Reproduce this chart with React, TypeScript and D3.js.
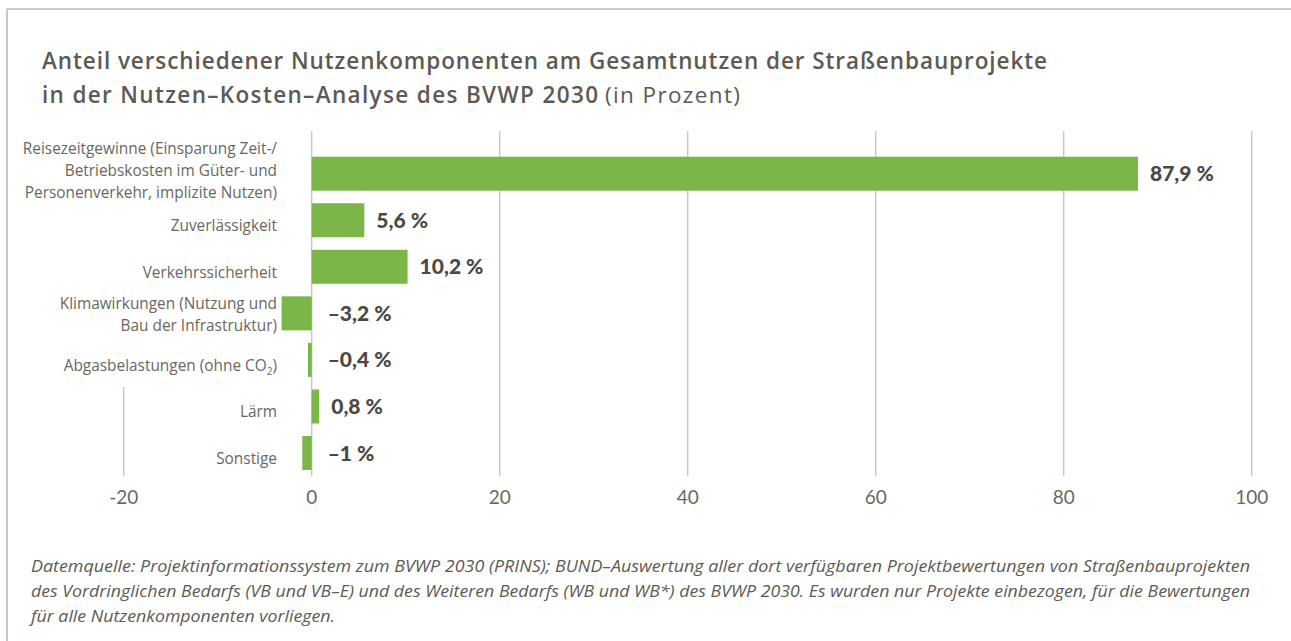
import React from "react";
import * as d3 from "d3";

const categories: string[][] = [
  ["Reisezeitgewinne (Einsparung Zeit-/", "Betriebskosten im Güter- und", "Personenverkehr, implizite Nutzen)"],
  ["Zuverlässigkeit"],
  ["Verkehrssicherheit"],
  ["Klimawirkungen (Nutzung und", "Bau der Infrastruktur)"],
  ["Abgasbelastungen (ohne CO|2|)"],
  ["Lärm"],
  ["Sonstige"],
];
const values: number[] = [87.9, 5.6, 10.2, -3.2, -0.4, 0.8, -1];
const valueLabels: string[] = ["87,9 %", "5,6 %", "10,2 %", "–3,2 %", "–0,4 %", "0,8 %", "–1 %"];
const tickValues: number[] = [-20, 0, 20, 40, 60, 80, 100];

const titleLine1 = "Anteil verschiedener Nutzenkomponenten am Gesamtnutzen der Straßenbauprojekte";
const titleLine2Bold = "in der Nutzen–Kosten–Analyse des BVWP 2030";
const titleLine2Regular = "(in Prozent)";
const footnoteLines: string[] = [
  "Datemquelle: Projektinformationssystem zum BVWP 2030 (PRINS); BUND–Auswertung aller dort verfügbaren Projektbewertungen von Straßenbauprojekten",
  "des Vordringlichen Bedarfs (VB und VB–E) und des Weiteren Bedarfs (WB und WB*) des BVWP 2030. Es wurden nur Projekte einbezogen, für die Bewertungen",
  "für alle Nutzenkomponenten vorliegen.",
];

const W = 1291;
const H = 641;
const GREEN = "#7ab648";
const GRID = "#c4c4c4";
const TEXT_DARK = "#4b4944";
const TEXT_MID = "#5d5a54";
const TEXT_LIGHT = "#6a6761";

export default function App() {
  const x = d3.scaleLinear().domain([0, 100]).range([311.7, 1251.7]);
  const y = d3
    .scaleBand<number>()
    .domain(d3.range(values.length))
    .range([156.7, 470])
    .paddingInner(0.27)
    .paddingOuter(0);
  const gridTop = 131;
  const gridBottom = 476;
  const lineH = 22;

  const renderLabelLine = (s: string) => {
    if (s.includes("|")) {
      const parts = s.split("|");
      return (
        <>
          {parts[0]}
          <tspan fontSize={10} dy={4}>{parts[1]}</tspan>
          <tspan dy={-4}>{parts[2]}</tspan>
        </>
      );
    }
    return s;
  };

  return (
    <svg
      width={W}
      height={H}
      style={{ position: "absolute", left: 0, top: 0, background: "#fff" }}
    >
      {/* frame */}
      <line x1={7} x2={W} y1={9} y2={9} stroke="#c9c9c9" strokeWidth={2} />
      <line x1={7} x2={7} y1={9} y2={H} stroke="#c9c9c9" strokeWidth={2} />

      {/* title */}
      <text
        x={42}
        y={69}
        fontFamily="'Open Sans', sans-serif"
        fontWeight={600}
        fontSize={22.5}
        fill={TEXT_MID}
        textLength={1005}
        lengthAdjust="spacing"
      >
        {titleLine1}
      </text>
      <text
        x={42}
        y={103}
        fontFamily="'Open Sans', sans-serif"
        fontWeight={600}
        fontSize={22.5}
        fill={TEXT_MID}
        textLength={556}
        lengthAdjust="spacing"
      >
        {titleLine2Bold}
      </text>
      <text
        x={605}
        y={103}
        fontFamily="'Open Sans', sans-serif"
        fontWeight={400}
        fontSize={22.5}
        fill={TEXT_MID}
        textLength={135}
        lengthAdjust="spacing"
      >
        {titleLine2Regular}
      </text>

      {/* grid */}
      {tickValues.map((t) => (
        <line
          key={t}
          x1={x(t)}
          x2={x(t)}
          y1={t === -20 ? 387 : gridTop}
          y2={gridBottom}
          stroke={GRID}
          strokeWidth={1.3}
        />
      ))}

      {/* tick labels */}
      {tickValues.map((t) => (
        <text
          key={"t" + t}
          x={x(t)}
          y={504}
          textAnchor="middle"
          fontFamily="'Liberation Sans Narrow', 'Lato', sans-serif"
          fontSize={19}
          fill={TEXT_LIGHT}
        >
          {t}
        </text>
      ))}

      {/* bars */}
      {values.map((v, i) => (
        <rect
          key={"b" + i}
          x={x(Math.min(0, v))}
          y={y(i)!}
          width={Math.abs(x(v) - x(0))}
          height={y.bandwidth()}
          fill={GREEN}
        />
      ))}

      {/* category labels */}
      {categories.map((lines, i) => {
        const cy = y(i)! + y.bandwidth() / 2;
        const n = lines.length;
        const first = cy + 11 - (n - 1) * lineH * 0.7;
        return (
          <text
            key={"c" + i}
            textAnchor="end"
            fontFamily="'Open Sans', sans-serif"
            fontWeight={400}
            fontSize={15.4}
            fill={TEXT_LIGHT}
          >
            {lines.map((l, j) => (
              <tspan key={j} x={277} y={first + j * lineH}>
                {renderLabelLine(l)}
              </tspan>
            ))}
          </text>
        );
      })}

      {/* value labels */}
      {values.map((v, i) => (
        <text
          key={"v" + i}
          x={x(Math.max(0, v)) + (v < 0 ? 16 : 12)}
          y={y(i)! + y.bandwidth() / 2 + 7.5}
          fontFamily="'Lato', sans-serif"
          fontWeight={900}
          fontSize={21}
          fill={TEXT_DARK}
        >
          {valueLabels[i]}
        </text>
      ))}

      {/* footnote */}
      {footnoteLines.map((l, i) => (
        <text
          key={"f" + i}
          x={31}
          y={572 + i * 25}
          fontFamily="'Open Sans', sans-serif"
          fontStyle="italic"
          fontSize={16.5}
          fill={TEXT_MID}
          textLength={i < 2 ? 1219 : 304}
          lengthAdjust="spacingAndGlyphs"
        >
          {l}
        </text>
      ))}
    </svg>
  );
}
